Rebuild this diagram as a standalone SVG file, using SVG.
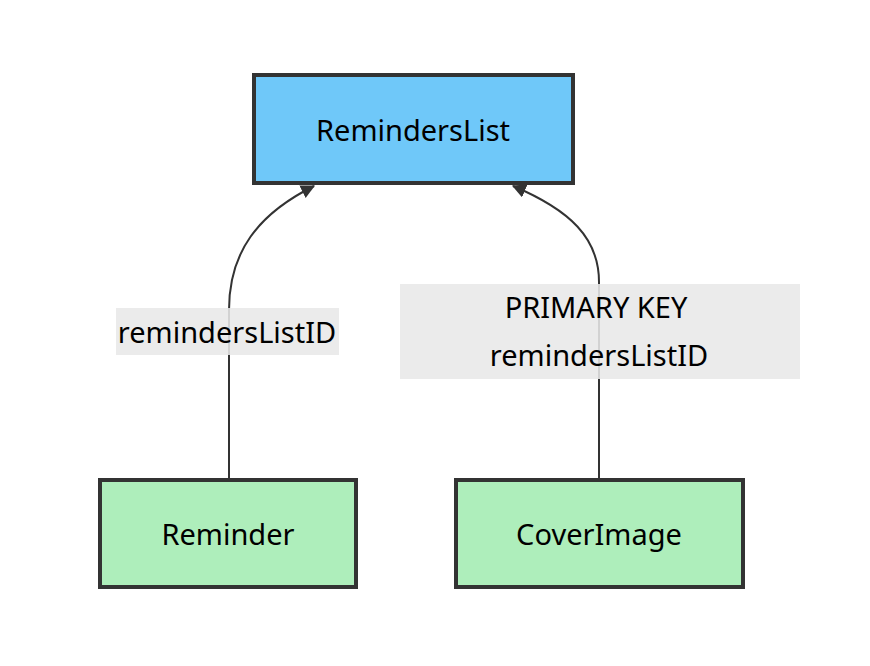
<svg xmlns="http://www.w3.org/2000/svg" width="870" height="666" viewBox="0 0 870 666">
<style>
.node rect{stroke:#333;stroke-width:4}
.parent rect{fill:#6fc8f9}
.child rect{fill:#aeeebb}
text{font-family:"Noto Sans","DejaVu Sans",sans-serif;font-size:29px;fill:#000;text-anchor:middle;dominant-baseline:central}
.edge{fill:none;stroke:#333;stroke-width:2}
.lblbg{fill:#e8e8e8;opacity:0.88}
</style>
<defs>
<marker id="ah" viewBox="0 0 12 12" refX="11" refY="6" markerWidth="14" markerHeight="14" markerUnits="userSpaceOnUse" orient="auto">
<path d="M0,0 L12,6 L0,12 z" fill="#333"/>
</marker>
</defs>
<rect width="870" height="666" fill="#fff"/>
<g id="connectors">
<path class="edge" d="M229,478 L229,310 C229,252 258,214 314,186" marker-end="url(#ah)"/>
<path class="edge" d="M599,478 L599,282 C599,238 570,210 513,186" marker-end="url(#ah)"/>
<g id="label-left">
<rect class="lblbg" x="116" y="308" width="223" height="47"/>
<text x="227" y="331">remindersListID</text>
</g>
<g id="label-right">
<rect class="lblbg" x="400" y="284" width="400" height="95"/>
<text x="596" y="306">PRIMARY KEY</text>
<text x="599" y="354">remindersListID</text>
</g>
</g>
<g id="RemindersList" class="node parent">
<rect x="254" y="75" width="319" height="108"/>
<text x="413" y="129">RemindersList</text>
</g>
<g id="Reminder" class="node child">
<rect x="100" y="480" width="256" height="107"/>
<text x="228" y="533">Reminder</text>
</g>
<g id="CoverImage" class="node child">
<rect x="456" y="480" width="287" height="107"/>
<text x="599" y="533">CoverImage</text>
</g>
</svg>
